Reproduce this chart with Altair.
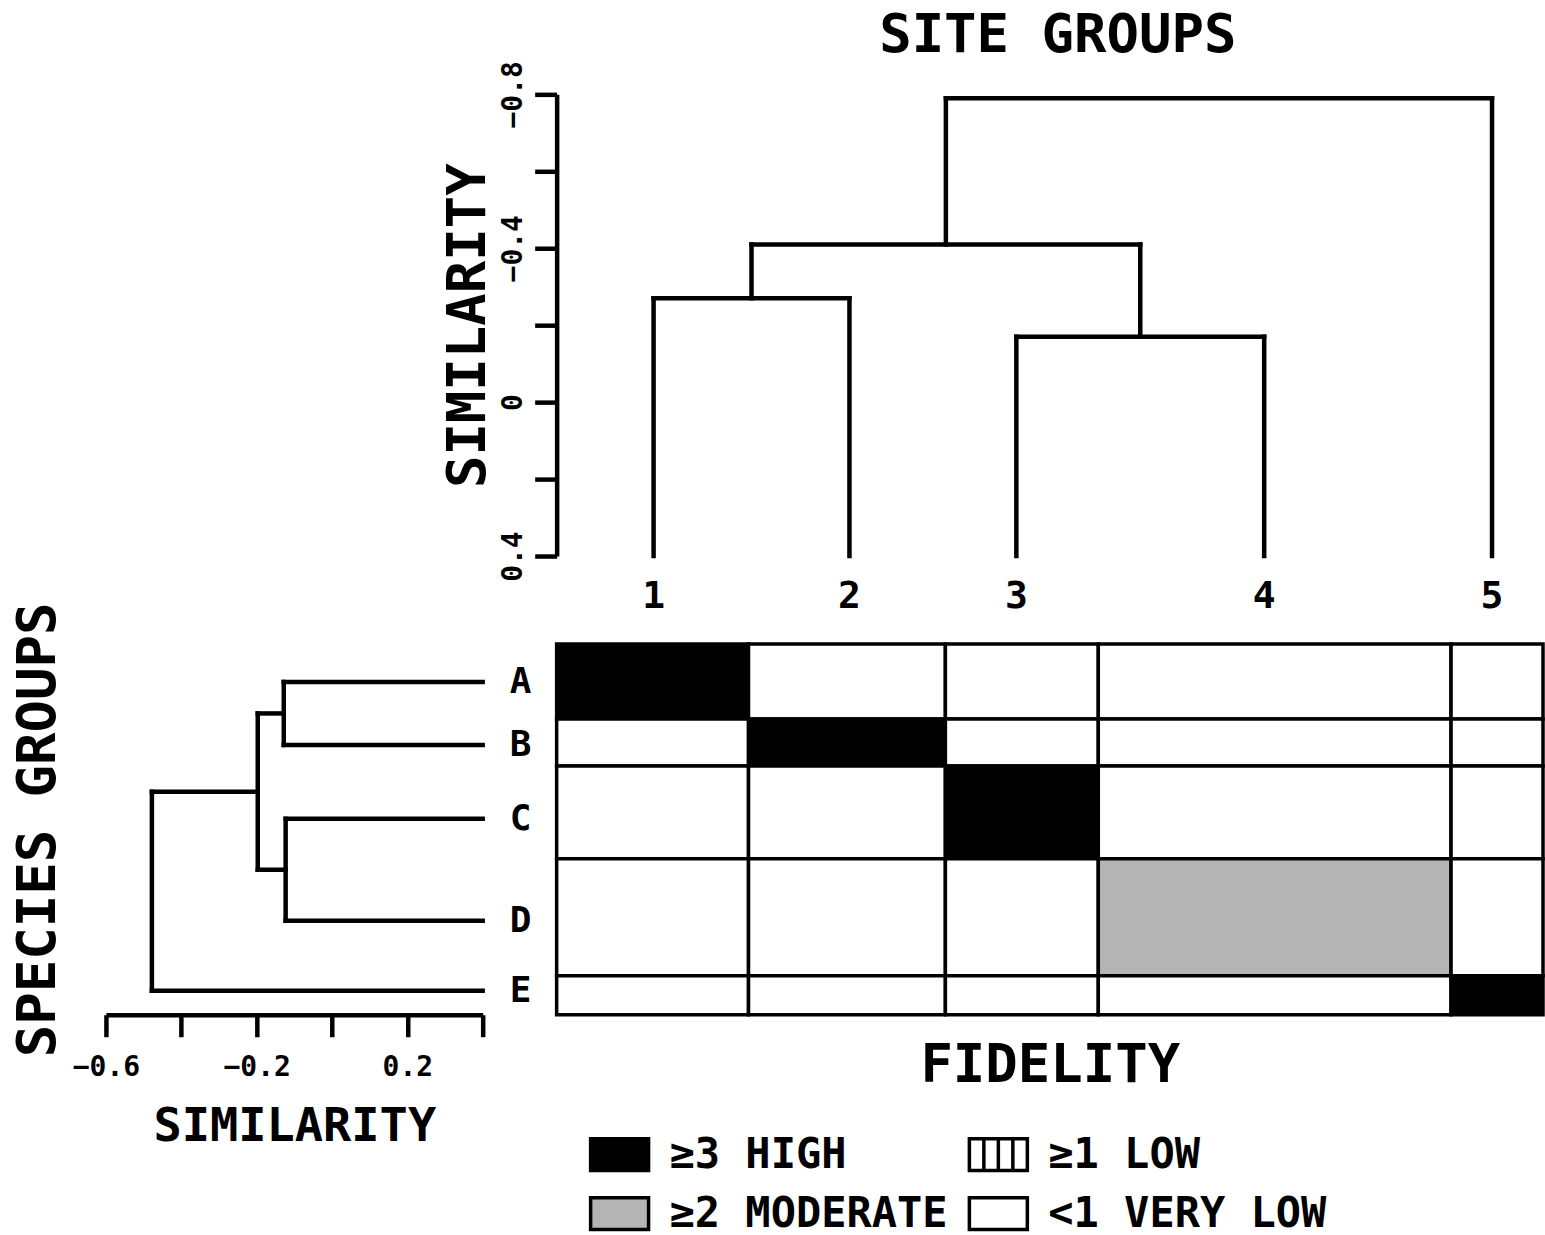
import altair as alt
import pandas as pd

FONT = "DejaVu Sans Mono"
WEIGHT = "bold"

# ---------------- data ----------------
site_groups = ["1", "2", "3", "4", "5"]
site_widths = [19.2, 19.7, 15.3, 35.3, 9.2]          # column widths of the fidelity table
site_leaf_pos = [9.7, 29.3, 46.0, 70.8, 93.6]        # leaf positions of the site dendrogram
site_merge_a = [0, 2, 5, 7]
site_merge_b = [1, 3, 6, 4]
site_merge_sim = [-0.27, -0.17, -0.41, -0.79]

species_groups = ["A", "B", "C", "D", "E"]
species_heights = [7.5, 4.7, 9.3, 11.7, 3.9]        # row heights of the fidelity table
species_leaf_pos = [3.8, 10.1, 17.5, 27.7, 34.7]     # leaf positions of the species dendrogram
species_merge_a = [0, 2, 5, 7]
species_merge_b = [1, 3, 6, 4]
species_merge_sim = [-0.128, -0.123, -0.197, -0.478]

leaf_sim = 0.4

fidelity_A = ["HIGH", "VERY LOW", "VERY LOW", "VERY LOW", "VERY LOW"]
fidelity_B = ["VERY LOW", "HIGH", "VERY LOW", "VERY LOW", "VERY LOW"]
fidelity_C = ["VERY LOW", "VERY LOW", "HIGH", "VERY LOW", "VERY LOW"]
fidelity_D = ["VERY LOW", "VERY LOW", "VERY LOW", "MODERATE", "VERY LOW"]
fidelity_E = ["VERY LOW", "VERY LOW", "VERY LOW", "VERY LOW", "HIGH"]
fidelity_rows = [fidelity_A, fidelity_B, fidelity_C, fidelity_D, fidelity_E]

levels = ["HIGH", "MODERATE", "LOW", "VERY LOW"]
level_labels = ["≥3 HIGH", "≥2 MODERATE", "≥1 LOW", "<1 VERY LOW"]

# ---------------- styles ----------------
level_fills = ["#000000", "#b4b4b4", "#ffffff", "#ffffff"]
BOX = "M-1,-0.55H1V0.55H-1Z"
STRIPED = "M-1,-0.55H1V0.55H-1Z M-0.5,-0.55V0.55 M0,-0.55V0.55 M0.5,-0.55V0.55"
level_shapes = [BOX, BOX, STRIPED, BOX]

W_MAT, H_MAT = 987, 371
W_LEFT, H_TOP = 377, 462
LW = 4.5


def dendro_segments(leaf_pos, ma, mb, msim):
    pos = list(leaf_pos)
    sim = [leaf_sim] * len(leaf_pos)
    segs = []
    for a, b, s in zip(ma, mb, msim):
        segs.append(dict(p=pos[a], p2=pos[a], s=sim[a], s2=s))
        segs.append(dict(p=pos[b], p2=pos[b], s=sim[b], s2=s))
        segs.append(dict(p=pos[a], p2=pos[b], s=s, s2=s))
        pos.append((pos[a] + pos[b]) / 2)
        sim.append(s)
    return pd.DataFrame(segs)


def edges(sizes):
    out = [0.0]
    for v in sizes:
        out.append(out[-1] + v)
    return out


col_edges = edges(site_widths)
row_edges = edges(species_heights)
total_x = col_edges[-1]
total_y = row_edges[-1]

cells = pd.DataFrame([
    dict(x0=col_edges[c], x1=col_edges[c + 1], y0=row_edges[r], y1=row_edges[r + 1],
         level=fidelity_rows[r][c], site=site_groups[c], species=species_groups[r])
    for r in range(len(species_groups)) for c in range(len(site_groups))
])

top_df = dendro_segments(site_leaf_pos, site_merge_a, site_merge_b, site_merge_sim)
left_df = dendro_segments(species_leaf_pos, species_merge_a, species_merge_b, species_merge_sim)
site_df = pd.DataFrame({"site": site_groups, "pos": site_leaf_pos})
species_df = pd.DataFrame({"species": species_groups, "pos": species_leaf_pos})
leg_df = pd.DataFrame({
    "level": levels, "label": level_labels,
    "col": [i // 2 for i in range(len(levels))],
    "row": [i % 2 for i in range(len(levels))],
})

x_mat = alt.Scale(domain=[0, total_x], nice=False, zero=False)
y_mat = alt.Scale(domain=[0, total_y], nice=False, zero=False, reverse=True)
fill_scale = alt.Scale(domain=levels, range=level_fills)

# ---------------- top (site) dendrogram ----------------
y_top = alt.Scale(domain=[-0.8, 0.4], nice=False, zero=False, reverse=True)
top_axis = alt.Axis(
    title="SIMILARITY", values=[-0.8, -0.6, -0.4, -0.2, 0, 0.2, 0.4],
    labelExpr="abs(round(datum.value*10)) % 4 == 0 ? (datum.value == 0 ? '0' : format(datum.value, '.1f')) : ''",
    labelAngle=270, labelAlign="center", labelBaseline="alphabetic", labelFontSize=28,
    labelPadding=13, tickSize=22, tickWidth=LW, domainWidth=LW, titleFontSize=54,
    titlePadding=4, labelFlush=False,
)
top_rules = alt.Chart(top_df).mark_rule(strokeWidth=LW, strokeCap="square", color="black").encode(
    x=alt.X("p:Q", scale=x_mat, axis=None),
    x2="p2:Q",
    y=alt.Y("s:Q", scale=y_top, axis=top_axis),
    y2="s2:Q",
)
top_labels = alt.Chart(site_df).mark_text(fontSize=38, font=FONT, fontWeight=WEIGHT, dy=41,
                                          baseline="middle").encode(
    x=alt.X("pos:Q", scale=x_mat, axis=None),
    y=alt.datum(leaf_sim),
    text="site:N",
)
top = alt.layer(top_rules, top_labels).properties(
    width=W_MAT, height=H_TOP,
    title=alt.TitleParams("SITE GROUPS", fontSize=54, font=FONT, fontWeight=WEIGHT,
                          frame="group", anchor="middle", offset=-2, dx=8, color="black"),
)

# ---------------- left (species) dendrogram ----------------
x_left = alt.Scale(domain=[-0.6, 0.4], nice=False, zero=False)
left_axis = alt.Axis(
    title="SIMILARITY", values=[-0.6, -0.4, -0.2, 0, 0.2, 0.4],
    labelExpr="abs(round(datum.value*10)) % 4 == 2 ? format(datum.value, '.1f') : ''",
    labelFontSize=28, labelPadding=17, tickSize=22, tickWidth=LW, domainWidth=LW,
    titleFontSize=47, titlePadding=22, labelFlush=False,
)
left_rules = alt.Chart(left_df).mark_rule(strokeWidth=LW, strokeCap="square", color="black").encode(
    x=alt.X("s:Q", scale=x_left, axis=left_axis),
    x2="s2:Q",
    y=alt.Y("p:Q", scale=y_mat, axis=alt.Axis(title="SPECIES GROUPS", labels=False, ticks=False,
                                               domain=False, titleFontSize=54, titlePadding=40)),
    y2="p2:Q",
)
left_labels = alt.Chart(species_df).mark_text(fontSize=36, font=FONT, fontWeight=WEIGHT, dx=38,
                                              baseline="middle").encode(
    x=alt.datum(leaf_sim),
    y=alt.Y("pos:Q", scale=y_mat),
    text="species:N",
)
left = alt.layer(left_rules, left_labels).properties(width=W_LEFT, height=H_MAT)

# ---------------- fidelity matrix ----------------
matrix = alt.Chart(cells).mark_rect(stroke="black", strokeWidth=3.5).encode(
    x=alt.X("x0:Q", scale=x_mat, axis=alt.Axis(title="FIDELITY", labels=False, ticks=False, domain=False,
                                               titleFontSize=54, titlePadding=24)),
    x2="x1:Q",
    y=alt.Y("y0:Q", scale=y_mat, axis=None),
    y2="y1:Q",
    fill=alt.Fill("level:N", scale=fill_scale, legend=None),
).properties(width=W_MAT, height=H_MAT)

# ---------------- legend ----------------
leg_x = alt.X("col:Q", scale=alt.Scale(domain=[0, 1], range=[63, 442]), axis=None)
leg_y = alt.Y("row:Q", scale=alt.Scale(domain=[0, 1], range=[52, 111]), axis=None)
leg_sym = alt.Chart(leg_df).mark_point(filled=True, size=3364, stroke="black", strokeWidth=3.5, opacity=1).encode(
    x=leg_x, y=leg_y,
    fill=alt.Fill("level:N", scale=fill_scale, legend=None),
    shape=alt.Shape("level:N", scale=alt.Scale(domain=levels, range=level_shapes), legend=None),
)
leg_txt = alt.Chart(leg_df).mark_text(align="left", baseline="middle", dx=50, fontSize=42,
                                      font=FONT, fontWeight=WEIGHT).encode(
    x=leg_x, y=leg_y, text="label:N",
)
legend = alt.layer(leg_sym, leg_txt).properties(width=W_MAT, height=128)

# ---------------- spacers ----------------
spacer1 = alt.Chart(pd.DataFrame({"v": [0]})).mark_point(opacity=0, size=0).properties(width=W_LEFT, height=H_TOP)
spacer2 = alt.Chart(pd.DataFrame({"v": [0]})).mark_point(opacity=0, size=0).properties(width=W_LEFT, height=128)

chart = alt.concat(
    spacer1, top, left, matrix, spacer2, legend,
    columns=2, spacing={"row": 88, "column": 74}, bounds="flush", align="each",
).resolve_scale(x="independent", y="independent").configure_view(stroke=None).configure_axis(
    grid=False, labelFont=FONT, titleFont=FONT, labelColor="black", titleColor="black",
    domainColor="black", tickColor="black", titleFontWeight=WEIGHT, labelFontWeight=WEIGHT,
).properties(padding={"left": 12, "top": 8, "right": 0, "bottom": 0}, background="white")

chart.save("out.html", embed_options={"renderer": "svg", "actions": False})
